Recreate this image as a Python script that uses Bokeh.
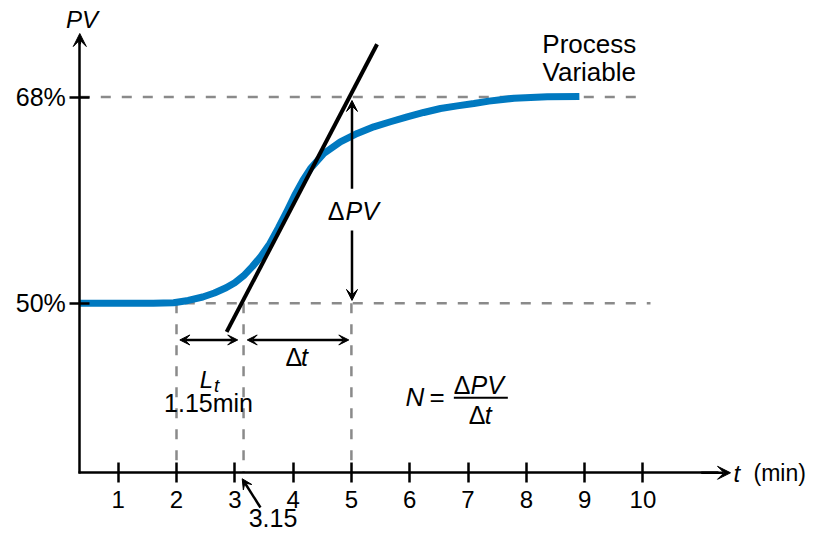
from bokeh.plotting import figure
from bokeh.models import (Range1d, LinearAxis, FixedTicker, PrintfTickFormatter,
                          Arrow, VeeHead)
from bokeh.core.properties import value
from bokeh.embed import file_html
from bokeh.resources import INLINE

# ---------------- data ----------------
time_ticks = [1, 2, 3, 4, 5, 6, 7, 8, 9, 10]
pv_ticks = [50, 68]

curve_t = [0.34, 1.0, 1.6, 1.95, 2.2, 2.45, 2.65, 2.85, 3.0, 3.15, 3.3, 3.45, 3.6,
           3.75, 3.9, 4.04, 4.17, 4.298, 4.527, 4.81, 5.10, 5.384, 5.67, 5.957,
           6.24, 6.528, 6.815, 7.10, 7.357, 7.79, 8.36, 8.91]
curve_pv = [50.0, 50.0, 50.0, 50.05, 50.25, 50.55, 50.9, 51.35, 51.8, 52.4, 53.2, 54.1, 55.2,
            56.6, 58.1, 59.55, 60.75, 61.76, 63.07, 64.09, 64.82, 65.40, 65.84, 66.27,
            66.65, 67.0, 67.23, 67.43, 67.64, 67.9, 68.02, 68.05]

tangent_t = [2.86, 5.44]
tangent_pv = [47.5, 72.6]

lag_start = 2.0      # min, start of rise
lag_end = 3.15       # min, tangent intercept
dt_end = 5.0         # min, tangent reaches 68%
pv_low = 50
pv_high = 68
guide_end_t = [10.13, 9.99]   # right end of the 50% / 68% guides

# ---------------- figure ----------------
X0, X1 = -1.0189, 12.823
Y0, Y1 = 29.825, 76.422
AX_T = 0.341     # where the PV axis sits
AX_PV = 35.21    # where the time axis sits
FONT = value("Liberation Sans")

p = figure(width=807, height=534, x_range=Range1d(X0, X1), y_range=Range1d(Y0, Y1),
           x_axis_type=None, y_axis_type=None, toolbar_location=None,
           output_backend="svg", min_border=0, outline_line_color=None,
           background_fill_color="white", border_fill_color="white")

GRAY = "#8a8a8a"
DASH = "10 11"
# horizontal guides
p.segment(x0=[AX_T, AX_T], y0=pv_ticks, x1=guide_end_t, y1=pv_ticks,
          line_color=GRAY, line_width=2.5, line_dash=DASH)
# vertical guides
vt = [lag_start, lag_end, dt_end]
p.segment(x0=vt, y0=[pv_low] * 3, x1=vt, y1=[AX_PV] * 3,
          line_color=GRAY, line_width=2.5, line_dash=DASH)

# process variable curve
p.line(curve_t, curve_pv, line_color="#0079C0", line_width=7, line_join="round")
# tangent
p.line(tangent_t, tangent_pv, line_color="black", line_width=4)

# axes
xaxis = LinearAxis(ticker=FixedTicker(ticks=time_ticks, minor_ticks=[]),
                   fixed_location=AX_PV, bounds=(AX_T - 0.02, 11.3),
                   axis_line_width=2.5, axis_line_color="black",
                   major_tick_line_width=2.5, major_tick_line_color="black",
                   major_tick_in=10, major_tick_out=10,
                   minor_tick_in=0, minor_tick_out=0,
                   major_label_text_font="Liberation Sans",
                   major_label_text_font_size="24px",
                   major_label_text_color="black",
                   major_label_standoff=8)
p.add_layout(xaxis, "below")

yaxis = LinearAxis(ticker=FixedTicker(ticks=pv_ticks, minor_ticks=[]),
                   formatter=PrintfTickFormatter(format="%d%%"),
                   fixed_location=AX_T, bounds=(AX_PV - 0.1, 73.0),
                   axis_line_width=2.5, axis_line_color="black",
                   major_tick_line_width=2.5, major_tick_line_color="black",
                   major_tick_in=10, major_tick_out=10,
                   minor_tick_in=0, minor_tick_out=0,
                   major_label_text_font="Liberation Sans",
                   major_label_text_font_size="25px",
                   major_label_text_color="black",
                   major_label_standoff=4)
p.add_layout(yaxis, "left")


def head(size):
    return VeeHead(size=size, fill_color="black", line_color="black", line_width=1)


def arrow(xs, ys, xe, ye, size=10, both=False, lw=2.5):
    p.add_layout(Arrow(x_start=xs, y_start=ys, x_end=xe, y_end=ye,
                       end=head(size), start=head(size) if both else None,
                       line_color="black", line_width=lw))


# axis arrow heads
arrow(11.0, AX_PV, 11.503, AX_PV, size=13)
arrow(AX_T, 72.6, AX_T, 73.54, size=13)

# Lt and delta-t arrows
arr_pv = 46.8
arrow(lag_start + 0.057, arr_pv, lag_end - 0.1, arr_pv, size=10, both=True)
arrow(lag_end + 0.063, arr_pv, dt_end - 0.045, arr_pv, size=10, both=True)
# delta PV arrows
arrow(dt_end + 0.01, 60.0, dt_end + 0.01, pv_high - 0.3, size=11)
arrow(dt_end + 0.01, 56.35, dt_end + 0.01, pv_low + 0.25, size=11)
# pointer to 3.15
arrow(3.44, 32.18, lag_end - 0.023, AX_PV - 0.52, size=10)


def txt(xs, ys, texts, size, style="normal", align="left"):
    p.text(x=xs, y=ys, text=texts, text_font=FONT, text_font_size=f"{size}px",
           text_font_style=style, text_align=align, text_baseline="alphabetic",
           y_offset=-round(0.3465 * size), text_color="black")


# axis titles
txt([0.379], [74.04], ["PV"], 24, "italic", "center")
txt([11.553], [34.48], ["t"], 24, "italic")
txt([11.897], [34.48], ["(min)"], 23)
# curve label
txt([9.08, 9.08], [71.86, 69.38], ["Process", "Variable"], 26, align="center")
# delta PV
txt([4.881], [57.23], ["\u0394"], 25, align="right")
txt([4.898], [57.23], ["PV"], 25, "italic")
# Lt
txt([2.397], [42.68], ["L"], 24, "italic")
txt([2.643], [42.24], ["t"], 19, "italic")
txt([2.549], [40.5], ["1.15min"], 25, align="center")
# delta t
txt([3.869], [44.57], ["\u0394"], 25)
txt([4.135], [44.57], ["t"], 25, "italic")
# N = dPV / dt
txt([5.928], [41.08], ["N"], 26, "italic")
txt([6.47], [41.08], ["="], 26, align="center")
txt([6.757], [42.10], ["\u0394"], 25)
txt([7.043], [42.10], ["PV"], 25, "italic")
p.segment(x0=[6.757], y0=[41.75], x1=[7.683], y1=[41.75], line_color="black", line_width=2)
txt([7.014], [39.49], ["\u0394"], 25)
txt([7.288], [39.49], ["t"], 25, "italic")
# 3.15 label
txt([3.655], [30.52], ["3.15"], 25, align="center")

open("out.html", "w").write(file_html(p, INLINE))
